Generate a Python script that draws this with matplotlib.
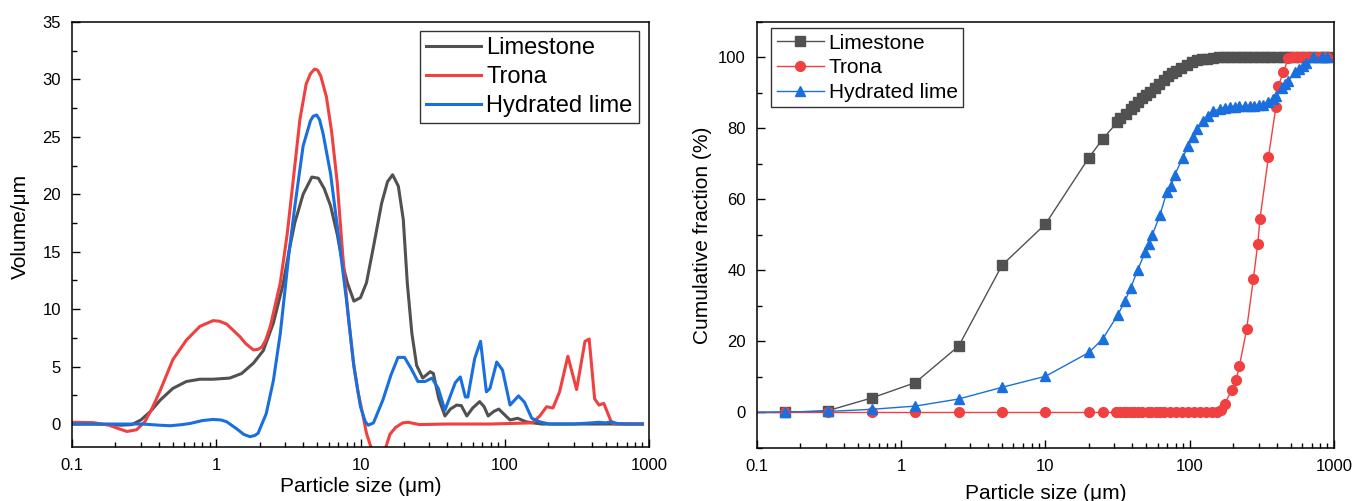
import matplotlib
matplotlib.use("Agg")
import matplotlib.pyplot as plt
from matplotlib.ticker import MultipleLocator, LogLocator, NullFormatter

plt.rcParams['font.family'] = ['Liberation Sans', 'DejaVu Sans']

# --- left panel: volume distribution ---
ls_x = [0.1, 0.14, 0.18, 0.22, 0.26, 0.30, 0.35, 0.41, 0.50, 0.62, 0.77, 0.95, 1.24, 1.5, 1.81,
        2.12, 2.49, 2.91, 3.2, 3.5, 4.0, 4.6, 5.1, 5.6, 6.2, 6.9, 7.5, 8.1, 9.0, 10.0, 11.0,
        12.2, 14.0, 15.4, 16.7, 18.3, 19.8, 21.1, 22.7, 24.5, 27, 30.4, 32, 34.9, 38.5, 42,
        46.4, 50, 54.6, 60, 67, 72, 76.8, 84, 91, 98, 108.8, 123, 140, 157, 180, 250, 400,
        600, 900]
ls_v = [0, 0, -0.05, -0.1, -0.05, 0.35, 1.1, 2.1, 3.1, 3.7, 3.9, 3.9, 4.0, 4.4, 5.3,
        6.4, 8.8, 12.2, 15.1, 17.5, 20.0, 21.5, 21.4, 20.5, 19.0, 16.5, 14.0, 12.3, 10.7, 11.0, 12.3,
        15.2, 19.2, 21.1, 21.7, 20.7, 17.8, 12.3, 7.9, 5.1, 4.0, 4.55, 4.4, 2.2, 0.7, 1.3,
        1.65, 1.6, 0.7, 1.4, 1.95, 1.5, 0.7, 1.1, 1.3, 0.9, 0.35, 0.5, 0.2, 0.1, 0, 0, 0,
        0, 0]

tr_x = [0.1, 0.14, 0.18, 0.21, 0.24, 0.28, 0.32, 0.36, 0.41, 0.50, 0.62, 0.77, 0.95, 1.05, 1.18,
        1.3, 1.46, 1.6, 1.81, 1.95, 2.07, 2.2, 2.37, 2.78, 3.1, 3.4, 3.8, 4.2, 4.5, 4.8, 5.05,
        5.3, 5.8, 6.3, 6.9, 7.5, 8.2, 8.9, 9.6, 10.3, 11.0, 11.8, 13.0, 14.3, 15.0, 16.0, 17.5,
        19.6, 21.4, 25.6, 40, 80, 155, 175, 195, 216, 240, 274, 315, 360, 385, 420, 450, 486,
        547, 580, 700, 900]
tr_v = [0.15, 0.12, -0.1, -0.4, -0.65, -0.5, 0.2, 1.4, 2.96, 5.6, 7.3, 8.5, 9.0, 8.95, 8.7,
        8.2, 7.6, 7.0, 6.45, 6.5, 6.7, 7.3, 8.5, 12.3, 16.5, 21.0, 26.5, 29.6, 30.5, 30.9, 30.8,
        30.3, 28.5, 25.5, 21.0, 15.0, 9.5, 5.5, 2.8, 1.0, -0.8, -2.0, -3.0, -2.6, -2.0, -0.9, -0.3,
        0.1, 0.15, -0.05, 0, 0, 0.1, 0.7, 1.5, 1.4, 2.8, 5.9, 3.0, 7.2, 7.4, 2.2, 1.65, 1.8,
        0.2, 0, 0, 0]

hl_x = [0.1, 0.14, 0.2, 0.31, 0.40, 0.48, 0.58, 0.66, 0.80, 0.95, 1.08, 1.18, 1.38, 1.55, 1.71,
        1.85, 1.95, 2.22, 2.49, 2.78, 3.2, 3.5, 4.0, 4.5, 4.7, 4.97, 5.2, 5.5, 6.2, 7.0, 8.1,
        9.0, 10.0, 10.8, 11.3, 12.3, 14.3, 16.3, 18.2, 20.2, 22.5, 25, 28, 31.3, 34.6, 38.5,
        45.4, 49.2, 53.3, 55.5, 61.9, 68, 74.6, 79, 88, 96.5, 108.8, 124.6, 137, 154, 174, 204,
        300, 400, 450, 500, 550, 600, 700, 900]
hl_v = [0, 0, 0, 0, -0.1, -0.15, -0.05, 0.05, 0.3, 0.4, 0.35, 0.2, -0.4, -0.9, -1.1,
        -1.0, -0.8, 0.9, 3.8, 7.9, 15.0, 18.9, 24.2, 26.4, 26.8, 26.9, 26.5, 25.3, 21.8, 16.6, 10.2,
        5.0, 1.5, 0.2, -0.1, 0.1, 2.1, 4.3, 5.8, 5.8, 4.8, 3.7, 3.7, 4.0, 3.1, 1.2,
        3.6, 4.1, 2.35, 2.35, 5.7, 7.2, 2.8, 3.1, 5.4, 4.7, 1.65, 2.45, 1.9, 0.5, 0.2, 0,
        0, 0.1, 0.15, 0.1, 0.2, 0.05, 0, 0]

# --- right panel: cumulative fraction ---
ls_cx = [0.078, 0.156, 0.3125, 0.625, 1.25, 2.5, 5, 10, 20, 25, 31.5, 33, 36, 39, 41, 44, 47, 50,
         53, 57, 61, 66, 71, 75, 80, 87, 95, 103, 112, 121, 132, 145, 160, 175, 190, 210, 230,
         250, 275, 300, 330, 360, 400, 440, 480, 530, 580, 640, 700, 770, 850, 900]
ls_cy = [0, 0, 0.55, 4.1, 8.4, 18.7, 41.5, 53.1, 71.8, 77.1, 81.8, 83.0, 84.1, 85.5, 86.3, 87.4, 88.5, 89.4,
         90.2, 91.3, 92.4, 93.7, 94.9, 95.6, 96.1, 97.1, 98.0, 98.7, 99.2, 99.5, 99.7, 99.9, 100, 100, 100, 100, 100,
         100, 100, 100, 100, 100, 100, 100, 100, 100, 100, 100, 100, 100, 100, 100]

tr_cx = [0.078, 0.156, 0.3125, 0.625, 1.25, 2.5, 5, 10, 20, 25, 31, 33, 35, 37, 39, 41, 44, 47, 51,
         54, 58, 62, 66, 73, 80, 88, 97, 107, 118, 130, 143, 155, 165, 175, 195, 210, 221, 248,
         276, 296, 307, 351, 396, 411, 446, 483, 510, 540, 575, 610, 650, 700, 750, 800, 850, 900]
tr_cy = [0, 0, 0, 0, 0, 0, 0, 0, 0, 0, 0, 0, 0, 0, 0, 0, 0, 0, 0,
         0, 0, 0, 0, 0, 0, 0, 0, 0, 0, 0, 0, 0, 0.7, 2.5, 6.2, 9.2, 13.1, 23.4,
         37.5, 47.4, 54.5, 71.9, 86.1, 91.9, 95.9, 99.9, 100, 100, 100, 100, 100, 100, 100, 100, 100, 100]

hl_cx = [0.078, 0.156, 0.3125, 0.625, 1.25, 2.5, 5, 10, 20, 25, 31.6, 35.6, 39, 43.5, 49, 52.5, 55,
         62.2, 69.2, 74, 79, 89.3, 97.8, 105, 111.7, 123, 134, 145, 162, 175, 190, 205, 220, 240,
         260, 280, 300, 320, 351, 375, 396, 433, 460, 483, 541, 575, 606, 640, 720, 820, 890]
hl_cy = [0, 0.2, 0.3, 0.9, 1.8, 3.8, 7.1, 10.2, 16.9, 20.8, 27.4, 31.4, 35.1, 40.1, 45.1, 47.5, 50,
         55.6, 62, 63.8, 67, 71.8, 75.1, 77.7, 79.9, 82, 83.6, 84.8, 85.6, 85.8, 86.0, 86.1, 86.2, 86.3,
         86.3, 86.4, 86.5, 86.7, 87.6, 88.3, 89.2, 91.4, 92.5, 93.5, 95.9, 96.8, 97.5, 98.4, 100, 100, 100]

labels = ['Limestone', 'Trona', 'Hydrated lime']
colors = ['#515151', '#F14040', '#1A6FDF']
xticks = [0.1, 1, 10, 100, 1000]
xticklabels = ['0.1', '1', '10', '100', '1000']

fig = plt.figure(figsize=(13.54, 5.01), dpi=100)
ax1 = fig.add_axes([0.0532, 0.1078, 0.4261, 0.8483])
ax2 = fig.add_axes([0.5591, 0.1058, 0.4261, 0.8503])


def style_axis(ax):
    ax.set_xscale('log')
    ax.set_xlim(0.1, 1000)
    ax.set_xticks(xticks)
    ax.set_xticklabels(xticklabels)
    ax.xaxis.set_minor_locator(LogLocator(base=10, subs=range(2, 10), numticks=20))
    ax.xaxis.set_minor_formatter(NullFormatter())
    ax.tick_params(which='both', direction='in', top=False, right=False,
                   labelsize=12, width=1.0)
    ax.tick_params(which='major', length=6, pad=8)
    ax.tick_params(which='minor', length=3.5)
    for s in ax.spines.values():
        s.set_linewidth(1.1)


# left
style_axis(ax1)
ax1.plot(ls_x, ls_v, color=colors[0], lw=2.2, label=labels[0])
ax1.plot(tr_x, tr_v, color=colors[1], lw=2.2, label=labels[1])
ax1.plot(hl_x, hl_v, color=colors[2], lw=2.2, label=labels[2])
ax1.set_ylim(-2, 35)
ax1.yaxis.set_major_locator(MultipleLocator(5))
ax1.yaxis.set_minor_locator(MultipleLocator(2.5))
ax1.set_xlabel('Particle size (μm)', fontsize=15)
ax1.set_ylabel('Volume/μm', fontsize=15)
ax1.xaxis.set_label_coords(0.5, -0.07)
ax1.yaxis.set_label_coords(-0.073, 0.52)
leg1 = ax1.legend(loc='upper right', bbox_to_anchor=(0.982, 0.978), fontsize=17,
                  fancybox=False, edgecolor='#333333', framealpha=1,
                  handlelength=2.3, handletextpad=0.25, labelspacing=0.3,
                  borderpad=0.25, borderaxespad=0)
leg1.get_frame().set_linewidth(1.0)

# right
style_axis(ax2)
ax2.plot(ls_cx, ls_cy, color=colors[0], lw=1.0, marker='s', ms=6.5, label=labels[0])
ax2.plot(tr_cx, tr_cy, color=colors[1], lw=1.0, marker='o', ms=7, label=labels[1])
ax2.plot(hl_cx, hl_cy, color=colors[2], lw=1.0, marker='^', ms=7.5, label=labels[2])
ax2.set_ylim(-10, 110)
ax2.yaxis.set_major_locator(MultipleLocator(20))
ax2.yaxis.set_minor_locator(MultipleLocator(10))
ax2.set_xlabel('Particle size (μm)', fontsize=15)
ax2.set_ylabel('Cumulative fraction (%)', fontsize=15)
ax2.xaxis.set_label_coords(0.5, -0.085)
ax2.yaxis.set_label_coords(-0.078, 0.5)
leg2 = ax2.legend(loc='upper left', bbox_to_anchor=(0.025, 0.985), fontsize=15,
                  fancybox=False, edgecolor='#333333', framealpha=1,
                  handlelength=2.25, handletextpad=0.25, labelspacing=0.28,
                  borderpad=0.25, borderaxespad=0)
leg2.get_frame().set_linewidth(1.0)

fig.savefig('out.png', dpi=100)
